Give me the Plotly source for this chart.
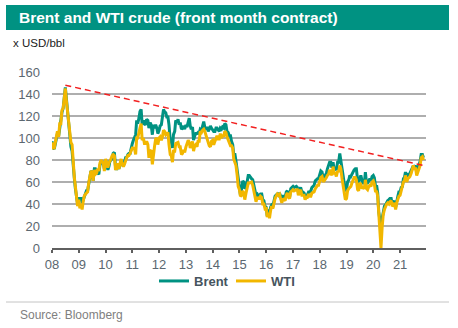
import pandas as pd
import plotly.graph_objects as go

# Semi-monthly observations (1st and 15th of each month), Jan 2008 - Nov 2021
dates = pd.date_range("2008-01-01", "2021-11-15", freq="SMS")

brent = [
    97, 91, 90, 96, 102, 104, 102, 110, 114, 123, 127, 135, 146, 136, 123, 113, 104, 92, 88, 72, 63, 54, 47, 40,   # 2008
    45, 45, 45, 41, 44, 46, 49, 52, 52, 58, 66, 70, 69, 61, 72, 72, 69, 68, 67, 75, 78, 78, 78, 72,               # 2009
    80, 77, 71, 74, 79, 80, 82, 86, 87, 75, 71, 75, 72, 75, 78, 75, 77, 78, 82, 82, 85, 86, 86, 92,               # 2010
    95, 98, 100, 103, 116, 113, 118, 124, 126, 112, 116, 113, 112, 117, 116, 109, 114, 112, 103, 112, 109, 112, 109, 104,  # 2011
    107, 111, 112, 118, 126, 124, 123, 119, 119, 112, 98, 97, 91, 103, 106, 116, 114, 117, 112, 114, 108, 109, 111, 108,   # 2012
    112, 110, 116, 118, 111, 108, 110, 98, 102, 104, 104, 105, 104, 108, 107, 110, 115, 110, 108, 110, 106, 108, 111, 109, # 2013
    107, 106, 106, 109, 109, 107, 106, 109, 108, 110, 109, 113, 112, 106, 105, 102, 102, 97, 94, 85, 85, 79, 70, 62,       # 2014
    55, 48, 54, 61, 60, 54, 55, 60, 66, 66, 64, 63, 62, 57, 50, 48, 49, 47, 48, 49, 49, 44, 43, 38,               # 2015
    37, 29, 35, 32, 37, 39, 38, 43, 47, 48, 49, 48, 50, 47, 43, 47, 47, 46, 51, 52, 47, 46, 54, 55,               # 2016
    56, 55, 56, 56, 55, 51, 53, 55, 51, 51, 50, 47, 48, 48, 51, 51, 52, 55, 56, 57, 61, 62, 63, 63,               # 2017
    67, 70, 69, 64, 64, 66, 68, 72, 75, 78, 78, 73, 78, 72, 72, 71, 78, 78, 86, 81, 72, 66, 59, 52,               # 2018
    53, 60, 62, 66, 65, 67, 69, 71, 72, 72, 62, 61, 63, 66, 61, 59, 59, 69, 59, 59, 61, 63, 61, 65,               # 2019
    66, 64, 56, 57, 50, 33, 25, 21, 27, 33, 38, 39, 42, 43, 44, 45, 45, 40, 41, 43, 37, 44, 47, 51,               # 2020
    51, 55, 56, 63, 64, 69, 63, 67, 67, 68, 71, 73, 75, 73, 75, 69, 73, 74, 79, 85, 85, 82,                       # 2021
]

wti = [
    96, 91, 91, 95, 100, 106, 101, 113, 113, 125, 127, 136, 145, 134, 125, 113, 108, 96, 94, 74, 64, 56, 47, 38,   # 2008
    44, 36, 40, 35, 42, 47, 49, 50, 51, 59, 68, 70, 69, 61, 71, 67, 68, 72, 70, 77, 80, 79, 77, 70,               # 2009
    81, 78, 73, 77, 80, 81, 84, 85, 84, 72, 72, 77, 72, 77, 81, 76, 74, 76, 80, 82, 84, 84, 86, 89,               # 2010
    91, 91, 90, 85, 100, 100, 107, 109, 113, 98, 100, 95, 95, 97, 94, 82, 88, 89, 76, 86, 93, 99, 100, 94,        # 2011
    100, 101, 98, 101, 107, 106, 103, 104, 105, 94, 85, 84, 78, 88, 88, 95, 96, 96, 92, 92, 85, 86, 89, 87,       # 2012
    92, 94, 98, 96, 91, 93, 97, 88, 93, 94, 92, 97, 97, 106, 105, 107, 108, 106, 102, 101, 95, 93, 92, 97,        # 2013
    98, 94, 97, 100, 102, 99, 99, 104, 100, 102, 102, 106, 105, 101, 98, 95, 93, 93, 91, 81, 78, 75, 66, 56,      # 2014
    53, 47, 48, 52, 50, 44, 50, 56, 59, 59, 60, 60, 57, 51, 46, 42, 46, 45, 45, 47, 46, 40, 40, 36,               # 2015
    37, 28, 32, 27, 34, 38, 36, 41, 45, 47, 49, 48, 49, 45, 41, 45, 44, 43, 48, 50, 46, 45, 51, 52,               # 2016
    53, 52, 53, 53, 53, 48, 51, 53, 48, 48, 48, 44, 46, 46, 49, 47, 47, 50, 51, 51, 54, 55, 57, 57,               # 2017
    60, 64, 65, 61, 61, 62, 64, 66, 67, 71, 67, 66, 74, 68, 68, 65, 70, 69, 75, 72, 63, 56, 51, 44,               # 2018
    45, 52, 54, 55, 56, 59, 61, 64, 64, 62, 53, 52, 59, 58, 54, 55, 54, 62, 54, 53, 56, 57, 56, 60,               # 2019
    61, 58, 51, 52, 47, 29, 20, 0, 19, 30, 35, 38, 40, 41, 40, 42, 43, 38, 39, 41, 35, 41, 45, 47,                # 2020
    48, 52, 54, 60, 61, 66, 60, 63, 64, 65, 68, 72, 75, 72, 72, 66, 69, 72, 75, 82, 83, 80,                       # 2021
]

# Falling resistance line across the Brent highs
trend_dates = ["2008-07-01", "2021-12-20"]
trend_values = [148, 74.5]

y_ticks = [0, 20, 40, 60, 80, 100, 120, 140, 160]
x_tick_dates = [f"{y}-01-01" for y in range(2008, 2022)]
x_tick_text = ["08", "09", "10", "11", "12", "13", "14", "15", "16", "17", "18", "19", "20", "21"]

W, H = 458, 328
ML, MR, MT, MB = 52, 32, 72, 80
PW, PH = W - ML - MR, H - MT - MB


def px_x(x):
    return (x - ML) / PW


def px_y(y):
    return (H - MB - y) / PH


TEAL = "#009282"
GOLD = "#F2B700"
TICK_COLOR = "#5b6770"
FONT = "Liberation Sans, Arial, sans-serif"

fig = go.Figure()
fig.add_trace(go.Scatter(x=dates, y=brent, mode="lines", name="<b>Brent</b>",
                         line=dict(color=TEAL, width=3)))
fig.add_trace(go.Scatter(x=dates, y=wti, mode="lines", name="<b>WTI</b>",
                         line=dict(color=GOLD, width=3)))
fig.add_trace(go.Scatter(x=trend_dates, y=trend_values, mode="lines", showlegend=False,
                         line=dict(color="#f22020", width=1.5, dash="6px,4px")))

fig.update_layout(
    width=W, height=H,
    margin=dict(l=ML, r=MR, t=MT, b=MB),
    paper_bgcolor="white", plot_bgcolor="white",
    font=dict(family=FONT, size=13, color=TICK_COLOR),
    showlegend=True,
    legend=dict(orientation="h", x=px_x(154), xanchor="left", y=px_y(281), yanchor="middle",
                font=dict(size=13, color="#46545e"), bgcolor="rgba(0,0,0,0)",
                itemwidth=30, tracegroupgap=0, entrywidth=32, entrywidthmode="pixels"),
    xaxis=dict(type="date", range=["2008-01-01", "2021-12-20"],
               tickmode="array", tickvals=x_tick_dates, ticktext=x_tick_text,
               showgrid=False, zeroline=False,
               showline=True, linecolor="#5f5f5f", linewidth=2,
               ticks="outside", ticklen=3, tickwidth=2, tickcolor="#5f5f5f",
               ticklabelstandoff=0,
               tickfont=dict(size=13, color=TICK_COLOR)),
    yaxis=dict(range=[0, 160], tickmode="array", tickvals=y_ticks,
               showgrid=True, gridcolor="#aeaeae", gridwidth=1.6,
               zeroline=False, showline=False, ticks="",
               ticklabelstandoff=11,
               tickfont=dict(size=13, color=TICK_COLOR)),
    shapes=[
        dict(type="rect", xref="paper", yref="paper",
             x0=px_x(6), x1=px_x(449), y0=px_y(30), y1=px_y(5),
             fillcolor=TEAL, line=dict(width=0), layer="below"),
        dict(type="line", xref="paper", yref="paper",
             x0=px_x(6), x1=px_x(449), y0=px_y(302), y1=px_y(302),
             line=dict(color="#c4c4c4", width=1)),
    ],
    annotations=[
        dict(text="<b>Brent and WTI crude (front month contract)</b>", xref="paper", yref="paper",
             x=px_x(17), y=px_y(17.5), xanchor="left", yanchor="middle", showarrow=False,
             font=dict(family=FONT, size=15.5, color="white")),
        dict(text="x USD/bbl", xref="paper", yref="paper",
             x=px_x(11), y=px_y(43), xanchor="left", yanchor="middle", showarrow=False,
             font=dict(family=FONT, size=11.5, color="#1a1a1a")),
        dict(text="Source: Bloomberg", xref="paper", yref="paper",
             x=px_x(18), y=px_y(315), xanchor="left", yanchor="middle", showarrow=False,
             font=dict(family=FONT, size=12, color="#808080")),
    ],
)

fig.write_html("out.html")
